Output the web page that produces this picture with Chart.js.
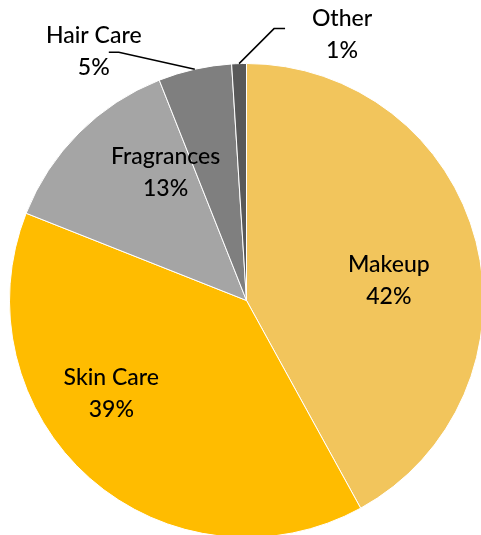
<!DOCTYPE html>
<html>
<head>
<meta charset="utf-8">
<script src="https://cdn.jsdelivr.net/npm/chart.js@4/dist/chart.umd.min.js"></script>
<style>
  html, body { margin: 0; padding: 0; background: #fff; overflow: hidden; }
  #wrap { width: 481px; height: 535px; overflow: hidden; position: relative; }
  canvas { position: absolute; left: 0; top: 0; }
</style>
</head>
<body>
<div id="wrap"><canvas id="pie" width="500" height="560"></canvas></div>
<script>
// sales share by category
const categories = ['Makeup', 'Skin Care', 'Fragrances', 'Hair Care', 'Other'];
const shares = [42, 39, 13, 5, 1];
const sliceColors = ['#F2C55C', '#FFBC00', '#A5A5A5', '#7F7F7F', '#595959'];

// label placement per slice: inside labels sit near the slice middle,
// outside ones hang off the rim with a leader line
const labelStyle = [
  { inside: true, r: 0.62, dx: 0, dy: 17 },
  { inside: true, r: 0.62, dx: -38, dy: -17 },
  { inside: true, r: 0.62, dx: 23, dy: -24 },
  { inside: false, dx: -101, dy: -18, elbow: [25, 1], end: [15, 1] },
  { inside: false, dx: 103, dy: -29, elbow: [-68, -6], end: [-57, -6] }
];

const pieLabels = {
  id: 'pieLabels',
  afterDatasetsDraw(chart) {
    const ctx = chart.ctx;
    const meta = chart.getDatasetMeta(0);
    ctx.save();
    ctx.font = '500 23px Lato';
    ctx.fillStyle = '#000';
    ctx.strokeStyle = '#000';
    ctx.lineWidth = 1.5;
    ctx.textAlign = 'center';
    ctx.textBaseline = 'middle';
    meta.data.forEach((arc, i) => {
      const p = arc.getProps(['x', 'y', 'startAngle', 'endAngle', 'outerRadius'], true);
      const mid = (p.startAngle + p.endAngle) / 2;
      const s = labelStyle[i];
      let cx, cy;
      if (s.inside) {
        cx = p.x + Math.cos(mid) * p.outerRadius * s.r + s.dx;
        cy = p.y + Math.sin(mid) * p.outerRadius * s.r + s.dy;
      } else {
        const ex = p.x + Math.cos(mid) * p.outerRadius;
        const ey = p.y + Math.sin(mid) * p.outerRadius;
        cx = ex + s.dx;
        cy = ey + s.dy;
        ctx.beginPath();
        ctx.moveTo(ex, ey);
        ctx.lineTo(cx + s.elbow[0], cy + s.elbow[1]);
        ctx.lineTo(cx + s.end[0], cy + s.end[1]);
        ctx.stroke();
      }
      ctx.fillText(categories[i], cx, cy - 16);
      ctx.fillText(shares[i] + '%', cx, cy + 16);
    });
    ctx.restore();
  }
};

new Chart(document.getElementById('pie'), {
  type: 'pie',
  data: {
    labels: categories,
    datasets: [{
      data: shares,
      backgroundColor: sliceColors,
      borderColor: '#fff',
      borderWidth: 1
    }]
  },
  options: {
    responsive: false,
    animation: false,
    layout: { padding: { left: 9, right: 16, top: 62, bottom: 21 } },
    plugins: {
      legend: { display: false },
      tooltip: { enabled: false }
    }
  },
  plugins: [pieLabels]
});
</script>
</body>
</html>
